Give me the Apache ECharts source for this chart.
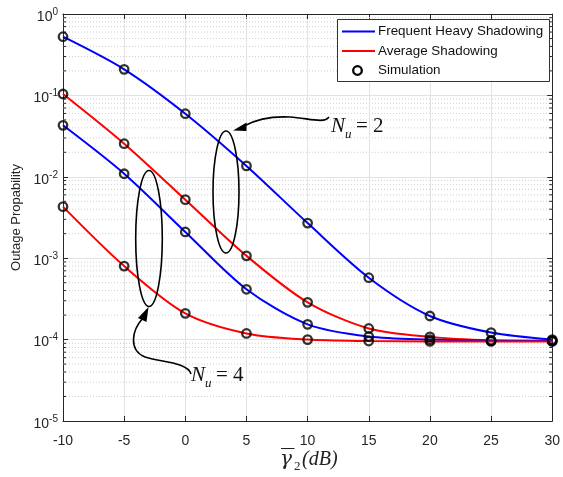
<!DOCTYPE html>
<html>
<head>
<meta charset="utf-8">
<script src="https://cdn.jsdelivr.net/npm/echarts@6/dist/echarts.min.js"></script>
<style>html,body{margin:0;padding:0;background:#fff;}#c{width:563px;height:477px;}</style>
</head>
<body>
<div id="c"></div>
<script>
var snrDb = [-10, -5, 0, 5, 10, 15, 20, 25, 30];
var heavyNu2 = [0.526, 0.209, 0.0596, 0.0136, 0.0027, 5.76e-4, 1.95e-4, 1.22e-4, 1.0e-4];
var avgNu2   = [0.104, 0.0255, 0.00524, 1.07e-3, 2.87e-4, 1.37e-4, 1.08e-4, 9.8e-5, 9.6e-5];
var heavyNu4 = [0.0429, 0.0109, 0.0021, 4.15e-4, 1.54e-4, 1.09e-4, 1.0e-4, 9.7e-5, 9.7e-5];
var avgNu4   = [0.0043, 8.0e-4, 2.1e-4, 1.19e-4, 1.0e-4, 9.6e-5, 9.5e-5, 9.5e-5, 9.5e-5];
var legendNames = ['Frequent Heavy Shadowing', 'Average Shadowing', 'Simulation'];
var yMin = 1e-5, yMax = 1;
var xMin = -10, xMax = 30, xStep = 5;
var minorTickVals = [];
for (var e = -5; e < 0; e++) { for (var m = 2; m <= 9; m++) { minorTickVals.push(m * Math.pow(10, e)); } }

function pairs(ys) { return snrDb.map(function (x, i) { return [x, ys[i]]; }); }

var chart = echarts.init(document.getElementById('c'), null, {renderer: 'canvas'});
var axisColor = '#262626';
var gridColor = '#e3e3e3';
var minorColor = '#cfcfcf';
var serif = '"Liberation Serif", "DejaVu Serif", serif';
var sans = '"Liberation Sans", Arial, sans-serif';

function lineSeries(name, ys, color) {
  return {
    name: name, type: 'line', data: pairs(ys), smooth: 0.3, symbol: 'none',
    lineStyle: {color: color, width: 2}, itemStyle: {color: color}, z: 3, silent: true
  };
}
function simSeries(ys) {
  return {
    name: 'Simulation', type: 'scatter', data: pairs(ys), symbol: 'circle', symbolSize: 8.5,
    itemStyle: {color: 'rgba(0,0,0,0)', borderColor: '#000', borderWidth: 2.3}, z: 5, silent: true
  };
}
function axisCommon() {
  return {
    axisLine: {show: true, onZero: false, lineStyle: {color: axisColor, width: 1}},
    axisTick: {show: true, inside: true, length: 5, lineStyle: {color: axisColor}}
  };
}

var option = {
  backgroundColor: '#fff',
  animation: false,
  grid: {left: 63, right: 9, top: 14, bottom: 56, containLabel: false},
  xAxis: [Object.assign(axisCommon(), {
    type: 'value', min: xMin, max: xMax, interval: xStep, position: 'bottom',
    axisLabel: {color: axisColor, fontSize: 14, fontFamily: sans, margin: 13},
    splitLine: {show: true, lineStyle: {color: gridColor, width: 1}}
  }), Object.assign(axisCommon(), {
    type: 'value', min: xMin, max: xMax, interval: xStep, position: 'top',
    axisLabel: {show: false}, splitLine: {show: false}
  })],
  yAxis: [Object.assign(axisCommon(), {
    type: 'log', logBase: 10, min: yMin, max: yMax, position: 'left',
    axisLabel: {
      color: axisColor, fontSize: 14, fontFamily: sans, margin: 5,
      formatter: function (v) { var ex = Math.round(Math.log10(v)); return '{b|10}{s|' + ex + '}'; },
      rich: {
        b: {fontSize: 14, color: axisColor, fontFamily: sans, padding: [6, 0, 0, 0]},
        s: {fontSize: 10, color: axisColor, fontFamily: sans, padding: [0, 0, 4, 0]}
      }
    },
    splitLine: {show: true, lineStyle: {color: gridColor, width: 1}},
    name: 'Outage Propability', nameLocation: 'middle', nameGap: 40, nameRotate: 90,
    nameTextStyle: {fontFamily: sans, fontSize: 13, color: axisColor}
  }), Object.assign(axisCommon(), {
    type: 'log', logBase: 10, min: yMin, max: yMax, position: 'right',
    axisLabel: {show: false}, splitLine: {show: false}
  })],
  series: [
    {
      type: 'custom', silent: true, z: 1,
      data: minorTickVals.map(function (v) { return [xMin, v]; }),
      renderItem: function (params, api) {
        var p0 = api.coord([xMin, api.value(1)]);
        var p1 = api.coord([xMax, api.value(1)]);
        return {
          type: 'group',
          children: [
            {type: 'line', shape: {x1: p0[0], y1: p0[1], x2: p1[0], y2: p1[1]},
             style: {stroke: minorColor, lineWidth: 1, lineDash: [1, 2]}},
            {type: 'line', shape: {x1: p0[0], y1: p0[1], x2: p0[0] + 3, y2: p0[1]},
             style: {stroke: axisColor, lineWidth: 1}},
            {type: 'line', shape: {x1: p1[0] - 3, y1: p1[1], x2: p1[0], y2: p1[1]},
             style: {stroke: axisColor, lineWidth: 1}}
          ]
        };
      }
    },
    lineSeries('Frequent Heavy Shadowing', heavyNu2, '#0000ff'),
    lineSeries('Average Shadowing', avgNu2, '#ff0000'),
    lineSeries('Frequent Heavy Shadowing', heavyNu4, '#0000ff'),
    lineSeries('Average Shadowing', avgNu4, '#ff0000'),
    simSeries(heavyNu2), simSeries(avgNu2), simSeries(heavyNu4), simSeries(avgNu4)
  ],
  graphic: [
    // legend box
    {type: 'rect', shape: {x: 337.5, y: 19.5, width: 212, height: 62}, style: {fill: '#fff', stroke: '#333', lineWidth: 1}, z: 20},
    {type: 'line', shape: {x1: 342, y1: 31.5, x2: 375, y2: 31.5}, style: {stroke: '#0000ff', lineWidth: 2}, z: 21},
    {type: 'line', shape: {x1: 342, y1: 51, x2: 375, y2: 51}, style: {stroke: '#ff0000', lineWidth: 2}, z: 21},
    {type: 'circle', shape: {cx: 357.5, cy: 70.5, r: 4.3}, style: {fill: 'none', stroke: '#000', lineWidth: 2.3}, z: 21},
    {type: 'text', x: 378, y: 31.5, style: {text: legendNames[0], font: '13.4px ' + sans, fill: '#111', verticalAlign: 'middle'}, z: 21},
    {type: 'text', x: 378, y: 51, style: {text: legendNames[1], font: '13.4px ' + sans, fill: '#111', verticalAlign: 'middle'}, z: 21},
    {type: 'text', x: 378, y: 70.5, style: {text: legendNames[2], font: '13.4px ' + sans, fill: '#111', verticalAlign: 'middle'}, z: 21},
    // x axis title
    {type: 'text', x: 280, y: 460, style: {text: 'γ', font: 'italic 20px "DejaVu Serif", serif', fill: '#222', verticalAlign: 'middle'}, z: 10},
    {type: 'line', shape: {x1: 281, y1: 448.5, x2: 294.5, y2: 448.5}, style: {stroke: '#222', lineWidth: 1}, z: 10},
    {type: 'text', x: 294, y: 467, style: {text: '2', font: '13px ' + serif, fill: '#222', verticalAlign: 'middle'}, z: 10},
    {type: 'text', x: 302, y: 460, style: {text: '(dB)', font: 'italic 20px ' + serif, fill: '#222', verticalAlign: 'middle'}, z: 10},
    // annotations
    {type: 'ellipse', shape: {cx: 226, cy: 192, rx: 13, ry: 61}, style: {fill: 'none', stroke: '#000', lineWidth: 1.6}, z: 10},
    {type: 'ellipse', shape: {cx: 149, cy: 238.5, rx: 13.3, ry: 68}, style: {fill: 'none', stroke: '#000', lineWidth: 1.6}, z: 10},
    {type: 'bezierCurve', shape: {x1: 329, y1: 117, cpx1: 324, cpy1: 124, cpx2: 308, cpy2: 118, x2: 290, y2: 117}, style: {fill: 'none', stroke: '#000', lineWidth: 1.6}, z: 10},
    {type: 'bezierCurve', shape: {x1: 290, y1: 117, cpx1: 270, cpy1: 116, cpx2: 255, cpy2: 120, x2: 244, y2: 126}, style: {fill: 'none', stroke: '#000', lineWidth: 1.6}, z: 10},
    {type: 'polygon', shape: {points: [[233, 130.5], [246.5, 131], [246.5, 122.5]]}, style: {fill: '#000'}, z: 10},
    {type: 'bezierCurve', shape: {x1: 191, y1: 374, cpx1: 188, cpy1: 362, cpx2: 160, cpy2: 362, x2: 145, y2: 357}, style: {fill: 'none', stroke: '#000', lineWidth: 1.6}, z: 10},
    {type: 'bezierCurve', shape: {x1: 145, y1: 357, cpx1: 128, cpy1: 350, cpx2: 132, cpy2: 330, x2: 143, y2: 318}, style: {fill: 'none', stroke: '#000', lineWidth: 1.6}, z: 10},
    {type: 'polygon', shape: {points: [[148.5, 307], [146.5, 322], [138, 318]]}, style: {fill: '#000'}, z: 10},
    {type: 'text', x: 331, y: 126, style: {text: 'N', font: 'italic 21px ' + serif, fill: '#111', verticalAlign: 'middle'}, z: 10},
    {type: 'text', x: 345, y: 135, style: {text: 'u', font: 'italic 13px ' + serif, fill: '#111', verticalAlign: 'middle'}, z: 10},
    {type: 'text', x: 356, y: 126, style: {text: '= 2', font: '21px ' + serif, fill: '#111', verticalAlign: 'middle'}, z: 10},
    {type: 'text', x: 191, y: 375, style: {text: 'N', font: 'italic 21px ' + serif, fill: '#111', verticalAlign: 'middle'}, z: 10},
    {type: 'text', x: 205, y: 384, style: {text: 'u', font: 'italic 13px ' + serif, fill: '#111', verticalAlign: 'middle'}, z: 10},
    {type: 'text', x: 216, y: 375, style: {text: '= 4', font: '21px ' + serif, fill: '#111', verticalAlign: 'middle'}, z: 10}
  ]
};
chart.setOption(option);
</script>
</body>
</html>
